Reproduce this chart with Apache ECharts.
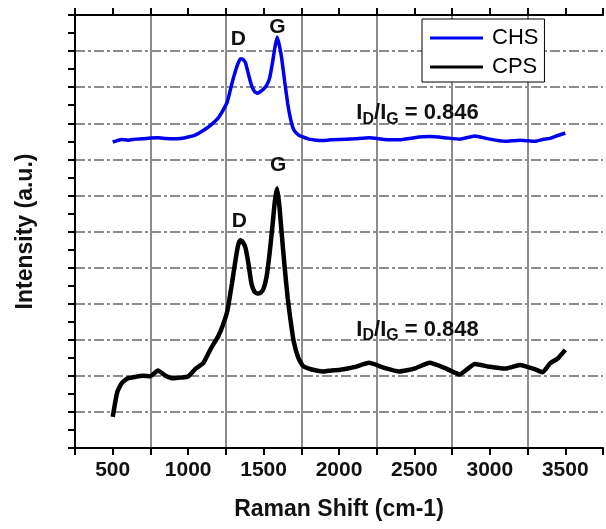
<!DOCTYPE html>
<html lang="en">
<head>
    <meta charset="UTF-8">
    <title>Raman</title>
    <style>
        * {
            margin: 0;
            padding: 0;
        }

        .main {
            width: 606px;
            height: 529px;
            background: #fff;
        }
    </style>
</head>
<body>
<div id="main" class="main"></div>
<script src="https://cdn.jsdelivr.net/npm/echarts@6.0.0/dist/echarts.min.js"></script>
<script>
    // Raman shift (cm-1), shared by both spectra
    var shift = [500, 530, 560, 600, 650, 700, 750, 800, 850, 900, 950, 1000, 1050, 1100, 1150, 1200,
        1230, 1260, 1290, 1310, 1330, 1345, 1360, 1380, 1400, 1420, 1440, 1460, 1480, 1500, 1520, 1540,
        1560, 1575, 1590, 1605, 1620, 1640, 1660, 1680, 1700, 1730, 1760, 1800, 1850, 1900, 1950, 2000,
        2100, 2200, 2300, 2400, 2500, 2600, 2700, 2800, 2900, 3000, 3100, 3200, 3300, 3350, 3400, 3450, 3500];

    var chs = [8.48, 8.52, 8.55, 8.53, 8.56, 8.57, 8.59, 8.6, 8.58, 8.57, 8.58, 8.62, 8.68, 8.8, 8.95, 9.15,
        9.35, 9.6, 10.1, 10.4, 10.65, 10.78, 10.78, 10.68, 10.35, 10.05, 9.88, 9.83, 9.88, 9.95, 10.05, 10.25,
        10.7, 11.1, 11.39, 11.15, 10.8, 10.15, 9.55, 9.1, 8.82, 8.68, 8.62, 8.56, 8.53, 8.52, 8.54, 8.55,
        8.57, 8.6, 8.55, 8.54, 8.6, 8.63, 8.6, 8.56, 8.65, 8.56, 8.5, 8.53, 8.5, 8.55, 8.58, 8.66, 8.73];

    var cps = [0.86, 1.55, 1.8, 1.93, 1.97, 2.0, 1.99, 2.15, 2.0, 1.93, 1.95, 1.98, 2.2, 2.35, 2.75, 3.1,
        3.4, 3.8, 4.55, 5.1, 5.6, 5.76, 5.72, 5.55, 5.1, 4.55, 4.33, 4.28, 4.3, 4.42, 4.75, 5.4,
        6.2, 6.85, 7.2, 6.7, 5.95, 5.0, 4.15, 3.5, 2.95, 2.5, 2.28, 2.2, 2.15, 2.12, 2.15, 2.16,
        2.24, 2.36, 2.22, 2.12, 2.2, 2.36, 2.22, 2.04, 2.33, 2.25, 2.2, 2.3, 2.18, 2.1, 2.35, 2.48, 2.72];

    // peak letters and ratio notes, placed in data space
    var peakNames = ['D', 'G'];
    var chsPeakAt = [[1332, 11.33], [1591, 11.65]];
    var cpsPeakAt = [[1339, 6.29], [1597, 7.84]];
    var chsRatio = '0.846';
    var cpsRatio = '0.848';
    var chsRatioAt = [2115, 9.28];
    var cpsRatioAt = [2115, 3.27];

    var xTicks = ['500', '1000', '1500', '2000', '2500', '3000', '3500'];

    var font = 'Liberation Sans, Arial, sans-serif';

    function zip(xs, ys) {
        return xs.map(function (x, i) {
            return [x, ys[i]];
        });
    }

    function notes(peaks, ratioAt, ratio) {
        var list = peaks.map(function (p, i) {
            return {
                coord: p,
                label: {
                    formatter: peakNames[i],
                    fontSize: 21,
                    fontWeight: 'bold'
                }
            };
        });
        list.push({
            coord: ratioAt,
            label: {
                align: 'left',
                formatter: '{a|I}{b|D}{a|/I}{b|G}{a| = ' + ratio + '}',
                rich: {
                    a: {fontSize: 22, fontWeight: 'bold', color: '#111', fontFamily: font},
                    b: {fontSize: 16, fontWeight: 'bold', color: '#111', fontFamily: font, padding: [12, 0, 0, 0]}
                }
            }
        });
        return {
            symbol: 'circle',
            symbolSize: 0,
            silent: true,
            itemStyle: {color: 'transparent'},
            label: {
                show: true,
                position: 'inside',
                color: '#111',
                fontFamily: font
            },
            data: list
        };
    }

    var myChart = echarts.init(document.getElementById('main'), null, {renderer: 'canvas'});

    var axisLine = {show: true, onZero: false, lineStyle: {color: '#000', width: 2}};

    myChart.setOption({
        animation: false,
        textStyle: {fontFamily: font},
        grid: {left: 75, top: 15, right: -4, bottom: 81},
        legend: {
            orient: 'vertical',
            left: 422,
            top: 19,
            padding: [8, 6, 4, 8],
            icon: 'rect',
            itemWidth: 53,
            itemHeight: 3,
            itemGap: 7,
            backgroundColor: '#fff',
            borderColor: '#000',
            borderWidth: 1,
            borderRadius: 0,
            textStyle: {fontSize: 22, color: '#000', lineHeight: 22, padding: [0, 0, 0, 4]},
            data: ['CHS', 'CPS']
        },
        xAxis: [{
            type: 'value',
            position: 'bottom',
            min: 250,
            max: 3750,
            interval: 250,
            name: 'Raman Shift (cm-1)',
            nameLocation: 'middle',
            nameGap: 50,
            nameTextStyle: {fontSize: 23, fontWeight: 'bold', color: '#111'},
            axisLine: axisLine,
            axisTick: {show: true, inside: false, length: 7, lineStyle: {color: '#000', width: 2}},
            axisLabel: {
                fontSize: 21,
                fontWeight: 'bold',
                color: '#111',
                margin: 12,
                formatter: function (v) {
                    return xTicks.indexOf(String(v)) >= 0 ? String(v) : '';
                }
            },
            splitLine: {show: false}
        }, {
            type: 'value',
            position: 'top',
            min: 250,
            max: 3750,
            interval: 250,
            axisLine: axisLine,
            axisTick: {show: true, inside: false, length: 7, lineStyle: {color: '#000', width: 2}},
            axisLabel: {show: false},
            splitLine: {show: false}
        }, {
            type: 'value',
            position: 'bottom',
            min: 250,
            max: 3750,
            interval: 500,
            axisLine: {show: false},
            axisTick: {show: false},
            axisLabel: {show: false},
            splitLine: {
                show: true,
                showMinLine: false,
                showMaxLine: false,
                lineStyle: {color: '#8c8c8c', width: 2}
            }
        }],
        yAxis: {
            type: 'value',
            min: 0,
            max: 12,
            interval: 1,
            name: 'Intensity (a.u.)',
            nameLocation: 'middle',
            nameGap: 38,
            nameTextStyle: {fontSize: 23, fontWeight: 'bold', color: '#111'},
            axisLine: axisLine,
            axisTick: {show: true, inside: false, length: 7, lineStyle: {color: '#000', width: 2}},
            minorTick: {show: true, splitNumber: 2, length: 7, lineStyle: {color: '#000', width: 2}},
            axisLabel: {show: false},
            splitLine: {
                show: true,
                showMinLine: false,
                showMaxLine: false,
                lineStyle: {color: '#8c8c8c', width: 2, type: [10, 3, 3, 3]}
            }
        },
        series: [{
            name: 'CHS',
            type: 'line',
            xAxisIndex: 0,
            symbol: 'none',
            smooth: 0.15,
            lineStyle: {color: '#0000f0', width: 3.5},
            itemStyle: {color: '#0000f0'},
            data: zip(shift, chs),
            markPoint: notes(chsPeakAt, chsRatioAt, chsRatio),
            z: 3
        }, {
            name: 'CPS',
            type: 'line',
            xAxisIndex: 0,
            symbol: 'none',
            smooth: 0.15,
            lineStyle: {color: '#000', width: 4.5},
            itemStyle: {color: '#000'},
            data: zip(shift, cps),
            markPoint: notes(cpsPeakAt, cpsRatioAt, cpsRatio),
            z: 3
        }]
    });
</script>
</body>
</html>
